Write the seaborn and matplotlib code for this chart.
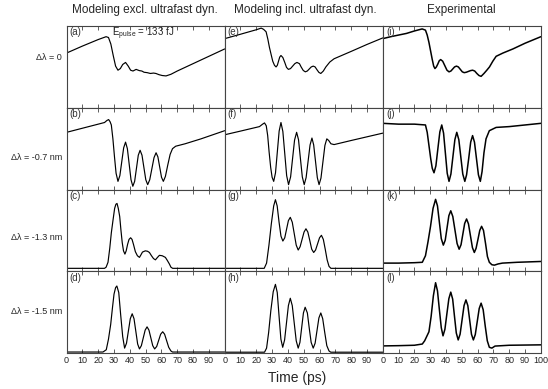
import numpy as np
import pandas as pd
import matplotlib
matplotlib.use('Agg')
import matplotlib.pyplot as plt
import seaborn as sns

# Column and row labels
col_titles = ['Modeling excl. ultrafast dyn.', 'Modeling incl. ultrafast dyn.', 'Experimental']
row_labels = ['\u0394\u03bb = 0', '\u0394\u03bb = -0.7 nm', '\u0394\u03bb = -1.3 nm', '\u0394\u03bb = -1.5 nm']
panel_tags = [['(a)', '(e)', '(i)'], ['(b)', '(f)', '(j)'],
              ['(c)', '(g)', '(k)'], ['(d)', '(h)', '(l)']]
xticks = [0, 10, 20, 30, 40, 50, 60, 70, 80, 90, 100]

# Traces: time (ps) and normalized signal (0..1 of panel height)
t_a = [0, 10, 20, 25, 26.5, 28, 29.5, 31, 32.5, 34, 35.5, 37.3, 39, 40.5, 42, 44, 46, 47.6, 49, 51,
       53, 55, 56.5, 58.5, 60.5, 62.9, 66, 70, 80, 90, 100]
y_a = [0.67, 0.755, 0.835, 0.87, 0.86, 0.78, 0.64, 0.51, 0.46, 0.48, 0.53, 0.555, 0.51, 0.46, 0.45, 0.47,
       0.455, 0.45, 0.435, 0.43, 0.42, 0.425, 0.42, 0.405, 0.395, 0.39, 0.41, 0.45, 0.54, 0.63, 0.72]

t_b = [0, 10, 20, 24, 25.5, 26.6, 27.5, 28.3, 29.3, 30.3, 31.3, 32.5, 33.7, 34.9, 36.1, 37.3, 38.45, 39.6,
       40.75, 41.9, 43.05, 44.2, 45.35, 46.5, 47.7, 48.9, 50.1, 51.3, 52.6, 53.95, 55.3, 56.6, 57.75, 58.9,
       60.05, 61.2, 62.5, 64, 65.5, 67, 69, 75, 85, 100]
y_b = [0.70, 0.75, 0.80, 0.82, 0.845, 0.856, 0.83, 0.79, 0.62, 0.40, 0.20, 0.10, 0.17, 0.34, 0.51, 0.58,
       0.50, 0.31, 0.12, 0.04, 0.10, 0.26, 0.42, 0.48, 0.42, 0.27, 0.12, 0.06, 0.12, 0.255, 0.39, 0.45,
       0.40, 0.275, 0.15, 0.10, 0.16, 0.30, 0.43, 0.50, 0.53, 0.56, 0.62, 0.72]

t_c = [0, 24, 25, 26.2, 27.3, 28.3, 29.4, 30.4, 31.2, 31.9, 32.7, 33.6, 34.4, 35.2, 36.0, 36.9, 37.7, 38.6,
       39.5, 40.5, 41.4, 42.3, 43.5, 44.8, 46.1, 47.0, 48.0, 49.8, 51.2, 52.4, 53.7, 55, 56.2, 57.5, 58.7,
       60.5, 62.5, 63.8, 65, 66, 67.1, 100]
y_c = [0.036, 0.036, 0.05, 0.11, 0.28, 0.47, 0.63, 0.77, 0.82, 0.83, 0.77, 0.67, 0.50, 0.35, 0.25, 0.21,
       0.25, 0.33, 0.39, 0.41, 0.39, 0.33, 0.24, 0.19, 0.17, 0.20, 0.235, 0.25, 0.245, 0.23, 0.19, 0.155,
       0.14, 0.17, 0.195, 0.19, 0.17, 0.13, 0.09, 0.05, 0.036, 0.036]

t_d = [0, 23, 25.1, 26.5, 27.9, 29, 30, 31, 31.8, 33, 34.2, 35.5, 36.7, 37.9, 39.1, 40.3, 41.5, 42.65, 43.8,
       44.95, 46.1, 47.3, 48.5, 49.7, 50.9, 52.1, 53.3, 54.5, 55.7, 57, 58.25, 59.5, 60.8, 62, 63.3, 64.6,
       66, 67, 100]
y_d = [0.012, 0.012, 0.04, 0.17, 0.35, 0.55, 0.72, 0.80, 0.82, 0.74, 0.47, 0.20, 0.06, 0.12, 0.27, 0.42,
       0.48, 0.42, 0.265, 0.11, 0.05, 0.09, 0.185, 0.28, 0.32, 0.28, 0.185, 0.09, 0.05, 0.08, 0.155, 0.23,
       0.26, 0.23, 0.15, 0.07, 0.025, 0.012, 0.012]

t_e = [0, 10, 20, 23.1, 24.6, 26.2, 27.3, 28.3, 29.4, 30.4, 31.5, 32.5, 33.3, 34.05, 34.8, 35.6, 36.8, 38,
       39.1, 40.3, 41.65, 43, 44.35, 45.7, 47.3, 48.35, 49.7, 51, 52.25, 53.5, 54.75, 56, 57.2, 58.4, 59.6,
       60.8, 62.4, 64, 66.5, 69.2, 80, 90, 100]
y_e = [0.846, 0.90, 0.955, 0.975, 0.96, 0.93, 0.84, 0.74, 0.65, 0.57, 0.52, 0.50, 0.52, 0.57, 0.62, 0.64,
       0.615, 0.555, 0.495, 0.47, 0.48, 0.51, 0.54, 0.555, 0.54, 0.50, 0.457, 0.44, 0.45, 0.475, 0.50, 0.51,
       0.50, 0.465, 0.433, 0.42, 0.45, 0.50, 0.56, 0.60, 0.69, 0.775, 0.855]

t_f = [0, 10, 22, 24, 25.2, 26.3, 27.2, 28.1, 29.1, 30, 31, 32.15, 33.3, 34.45, 35.6, 36.8, 38, 39.2, 40.4,
       41.7, 42.95, 44.2, 45.5, 46.7, 47.9, 49.1, 50.3, 51.5, 52.75, 54, 55.2, 56.3, 57.45, 58.6, 59.7,
       60.9, 62.15, 63.4, 64.6, 65.8, 67.2, 69.2, 80, 90, 100]
y_f = [0.67, 0.715, 0.77, 0.80, 0.815, 0.78, 0.66, 0.46, 0.27, 0.15, 0.10, 0.205, 0.46, 0.715, 0.82, 0.71,
       0.44, 0.17, 0.06, 0.155, 0.38, 0.605, 0.70, 0.61, 0.38, 0.155, 0.06, 0.145, 0.345, 0.545, 0.63,
       0.545, 0.345, 0.145, 0.06, 0.14, 0.34, 0.54, 0.62, 0.60, 0.56, 0.55, 0.60, 0.645, 0.69]

t_g = [0, 25, 26.5, 28, 29.5, 31, 32.1, 33.2, 34.4, 35.6, 36.8, 38, 39.15, 40.3, 41.5, 42.75, 44, 45.25,
       46.5, 47.7, 48.95, 50.2, 51.4, 52.6, 53.85, 55.05, 56.3, 57.5, 58.75, 60, 61.2, 62.4, 63.6, 64.8,
       66, 67.2, 100]
y_g = [0.036, 0.036, 0.10, 0.32, 0.58, 0.80, 0.876, 0.80, 0.60, 0.43, 0.37, 0.41, 0.515, 0.62, 0.66, 0.60,
       0.46, 0.32, 0.26, 0.30, 0.39, 0.48, 0.52, 0.48, 0.375, 0.27, 0.23, 0.26, 0.335, 0.41, 0.44, 0.39,
       0.27, 0.14, 0.06, 0.036, 0.036]

t_h = [0, 25.2, 26.5, 27.8, 29.2, 30.7, 32.1, 33.25, 34.4, 35.55, 36.7, 37.9, 39.1, 40.3, 41.5, 42.75, 44,
       45.25, 46.5, 47.6, 48.7, 49.8, 50.9, 52.3, 53.45, 54.7, 56, 57.2, 58.4, 59.6, 60.8, 62, 63.3, 64.6,
       66, 67.1, 100]
y_h = [0.01, 0.01, 0.06, 0.25, 0.52, 0.75, 0.84, 0.74, 0.45, 0.17, 0.07, 0.16, 0.37, 0.58, 0.67, 0.58,
       0.365, 0.15, 0.06, 0.13, 0.31, 0.49, 0.56, 0.49, 0.31, 0.13, 0.06, 0.12, 0.275, 0.43, 0.49, 0.42,
       0.25, 0.09, 0.025, 0.01, 0.01]

t_i = [0, 5, 10, 15, 20, 24.9, 27, 28.1, 29.2, 30.2, 31.3, 32.2, 33, 33.9, 34.8, 35.7, 36.6, 37.9, 39.25,
       40.6, 41.9, 43.1, 44.25, 45.4, 46.6, 47.8, 49.05, 50.3, 51.5, 52.8, 54.15, 55.5, 56.8, 58.15, 59.5,
       60.85, 62.2, 64, 65.8, 67.5, 69.6, 71.7, 76, 82.3, 90, 100]
y_i = [0.846, 0.87, 0.89, 0.91, 0.94, 0.965, 0.95, 0.89, 0.80, 0.70, 0.59, 0.51, 0.48, 0.50, 0.535, 0.575,
       0.59, 0.57, 0.515, 0.46, 0.44, 0.45, 0.475, 0.50, 0.51, 0.50, 0.47, 0.44, 0.43, 0.435, 0.445, 0.455,
       0.46, 0.45, 0.42, 0.395, 0.385, 0.42, 0.46, 0.50, 0.57, 0.63, 0.67, 0.72, 0.79, 0.87]

t_j = [0, 10, 20, 27, 28.1, 29.2, 30.3, 31.3, 32.4, 33.6, 34.85, 36.1, 37.3, 38.45, 39.6, 40.75, 41.9, 43.1,
       44.35, 45.6, 46.8, 48.1, 49.35, 50.6, 51.9, 53, 54.35, 55.6, 56.8, 58, 59.25, 60.5, 61.7, 62.8, 64,
       65.3, 67.4, 71.7, 80, 90, 100]
y_j = [0.81, 0.80, 0.80, 0.79, 0.70, 0.54, 0.38, 0.26, 0.205, 0.29, 0.50, 0.705, 0.79, 0.69, 0.445, 0.20,
       0.10, 0.19, 0.40, 0.61, 0.70, 0.61, 0.40, 0.19, 0.10, 0.18, 0.38, 0.58, 0.66, 0.58, 0.38, 0.18, 0.10,
       0.22, 0.45, 0.62, 0.72, 0.76, 0.77, 0.79, 0.81]

t_k = [0, 10, 20, 25, 27, 28.6, 30.2, 31.8, 33.4, 34.6, 35.8, 37, 38.3, 39.5, 40.65, 41.8, 43, 44.3, 45.65,
       47, 48.3, 49.5, 50.65, 51.8, 53, 54.2, 55.45, 56.7, 57.9, 59, 60.2, 61.35, 62.5, 63.7, 65, 66.2,
       67.4, 69, 70.6, 73, 75.7, 85, 100]
y_k = [0.10, 0.10, 0.105, 0.11, 0.19, 0.36, 0.55, 0.77, 0.88, 0.80, 0.60, 0.40, 0.32, 0.38, 0.53, 0.68,
       0.74, 0.67, 0.505, 0.34, 0.27, 0.325, 0.455, 0.585, 0.64, 0.58, 0.435, 0.29, 0.23, 0.28, 0.39, 0.50,
       0.55, 0.50, 0.34, 0.18, 0.11, 0.08, 0.075, 0.09, 0.10, 0.11, 0.12]

t_l = [0, 10, 20, 25, 26.5, 29.2, 30.6, 32, 33.4, 34.6, 35.8, 37, 38.1, 39.3, 40.55, 41.8, 43, 44.2, 45.35,
       46.5, 47.7, 48.9, 50.15, 51.4, 52.6, 53.8, 54.95, 56.1, 57.3, 58.5, 59.75, 61, 62.2, 63.5, 64.8,
       66.1, 67.4, 69, 71, 80, 100]
y_l = [0.087, 0.09, 0.095, 0.11, 0.15, 0.26, 0.45, 0.70, 0.86, 0.76, 0.53, 0.31, 0.21, 0.29, 0.48, 0.665,
       0.745, 0.66, 0.45, 0.245, 0.16, 0.23, 0.405, 0.58, 0.65, 0.58, 0.405, 0.23, 0.16, 0.225, 0.385,
       0.545, 0.61, 0.53, 0.33, 0.15, 0.07, 0.06, 0.085, 0.095, 0.10]

traces = [[(t_a, y_a), (t_e, y_e), (t_i, y_i)],
          [(t_b, y_b), (t_f, y_f), (t_j, y_j)],
          [(t_c, y_c), (t_g, y_g), (t_k, y_k)],
          [(t_d, y_d), (t_h, y_h), (t_l, y_l)]]

sns.set_theme(style='white')
plt.rcParams['font.family'] = ['Liberation Sans', 'DejaVu Sans']
plt.rcParams['mathtext.fontset'] = 'custom'
plt.rcParams['mathtext.rm'] = 'Liberation Sans'

fig, axes = plt.subplots(4, 3, figsize=(5.48, 3.89), dpi=100)
fig.subplots_adjust(left=0.1215, right=0.987, top=0.933, bottom=0.0925, wspace=0, hspace=0)

for r in range(4):
    for c in range(3):
        ax = axes[r, c]
        t, y = traces[r][c]
        df = pd.DataFrame({'t': t, 'y': y})
        lw = 1.1 if c == 2 else 0.85
        sns.lineplot(data=df, x='t', y='y', ax=ax, color='black', lw=lw, sort=False)
        ax.set_xlim(0, 100)
        ax.set_ylim(0, 1)
        ax.set_xlabel('')
        ax.set_ylabel('')
        ax.set_yticks([])
        ax.set_xticks(xticks)
        ax.tick_params(axis='x', direction='in', top=True, bottom=True, length=3,
                       width=0.6, color='#444444', labelsize=6.5, pad=2)
        if r == 3:
            labs = [str(v) for v in xticks]
            if c < 2:
                labs[-1] = ''
            ax.set_xticklabels(labs)
        else:
            ax.set_xticklabels([])
        for s in ax.spines.values():
            s.set_color('#444444')
            s.set_linewidth(0.8)
        ax.text(0.02, 0.985, panel_tags[r][c], transform=ax.transAxes, ha='left', va='top',
                fontsize=7, color='#333333')

axes[0, 0].text(0.285, 0.91, r'E$_{\rm pulse}$ = 133 fJ', transform=axes[0, 0].transAxes,
                ha='left', va='center', fontsize=7, color='#222222')

col_x = [145 / 548, 305 / 548, 461 / 548]
for c in range(3):
    fig.text(col_x[c], 0.974, col_titles[c], ha='center', va='center', fontsize=8.5)

row_y = [58, 157, 237, 312]
for r in range(4):
    fig.text(62 / 548, 1 - row_y[r] / 389, row_labels[r], ha='right', va='center', fontsize=6.5)

fig.text(297 / 548, 1 - 378 / 389, 'Time (ps)', ha='center', va='center', fontsize=10)

fig.savefig('out.png', dpi=100)
